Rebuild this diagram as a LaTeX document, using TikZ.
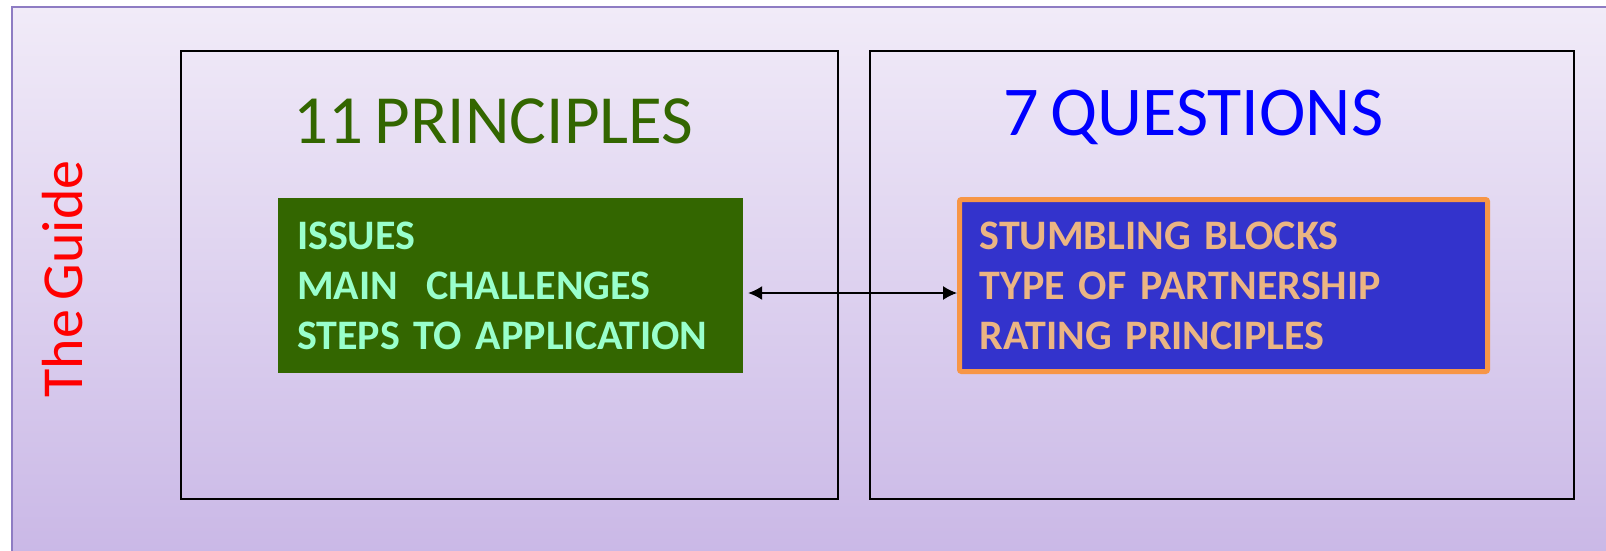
\documentclass[tikz,border=0pt]{standalone}
\usepackage{fontspec}
\setmainfont[WordSpace=0.75]{Carlito}
\usetikzlibrary{arrows.meta}
\definecolor{bgtop}{HTML}{F1EBF8}
\definecolor{bgbot}{HTML}{C9B7E6}
\definecolor{bgline}{HTML}{8E7CC3}
\definecolor{dgreen}{HTML}{336600}
\definecolor{mint}{HTML}{99FFCC}
\definecolor{dblue}{HTML}{3333CC}
\definecolor{orng}{HTML}{F79646}
\definecolor{tan}{HTML}{EBB583}
\begin{document}
\begin{tikzpicture}[x=1pt,y=-1pt,
  panel/.style={draw=black, line width=1.6pt, fill=none},
  textbox/.style={rectangle, inner xsep=19pt, inner ysep=0pt, align=left,
     font=\bfseries\fontsize{42}{50}\selectfont},
  greenbox/.style={textbox, fill=dgreen, text=mint, minimum width=465pt, minimum height=175pt, text width=427pt},
  bluebox/.style={textbox, fill=dblue, text=tan, draw=orng, line width=5pt, rounded corners=2pt,
     minimum width=528pt, minimum height=172pt, text width=488pt},
  title/.style={inner sep=0pt, anchor=base west},
  link/.style={{Latex[length=14pt,width=14pt]}-{Latex[length=14pt,width=14pt]}, line width=1.5pt}]
\useasboundingbox (0,0) rectangle (1606,550);
\fill[white] (0,0) rectangle (1606,550);
\shade[top color=bgtop, bottom color=bgbot, draw=bgline, line width=1.5pt] (12,7) rectangle (1625,565);
\node[rotate=90, anchor=base, inner sep=0pt, text=red, font=\fontsize{58}{70}\selectfont] (guide) at (82,279) {The Guide};
\draw[panel] (181,51) rectangle (838,499);
\draw[panel] (870,51) rectangle (1574,499);
\node[title, text=dgreen, font=\fontsize{69}{83}\selectfont] (ptitle) at (293,143) {11 PRINCIPLES};
\node[title, text=blue, font=\fontsize{70}{84}\selectfont] (qtitle) at (1003,135) {7 QUESTIONS};
\node[greenbox] (gbox) at (510.5,285.5) {ISSUES\\MAIN\ \ CHALLENGES\\STEPS TO APPLICATION};
\node[bluebox] (bbox) at (1223.5,285.5) {STUMBLING BLOCKS\\TYPE OF PARTNERSHIP\\RATING PRINCIPLES};
\draw[link, shorten <=5pt] ([yshift=-7.5pt]gbox.east) -- ([yshift=-7.5pt]bbox.west);
\end{tikzpicture}
\end{document}
